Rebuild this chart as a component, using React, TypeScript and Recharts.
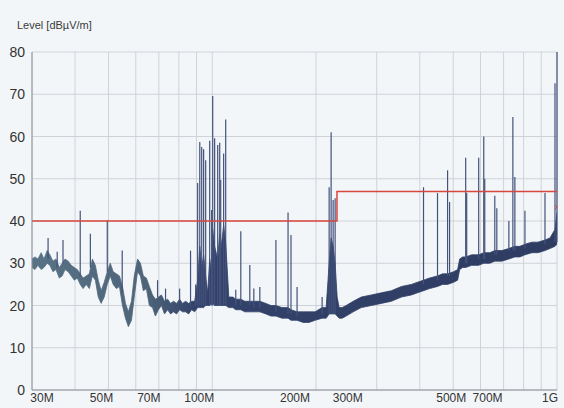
import { ComposedChart, Area, Line, Scatter, ErrorBar, XAxis, YAxis, CartesianGrid } from 'recharts'

// noise floor envelope of the scan, MHz / dBµV/m
const noiseFreq = [
  30.0, 30.6, 31.2, 31.9, 32.5, 33.2, 33.8, 34.5, 35.2, 36.0, 36.7, 37.4, 38.2, 39.0, 39.8, 40.6, 41.4, 42.2, 43.1, 44.0,
  44.9, 45.8, 46.7, 47.6, 48.6, 49.6, 50.6, 51.6, 52.7, 53.8, 54.9, 56.0, 57.1, 58.3, 59.4, 60.7, 61.9, 63.1, 64.4, 65.7,
  67.1, 68.4, 69.8, 71.2, 72.7, 74.2, 75.7, 77.2, 78.8, 80.4, 82.0, 83.7, 85.4, 87.1, 88.9,
  90.7, 92.0, 93.2, 94.4, 95.7, 97.0, 98.3, 99.6, 100.3, 101.6, 103.7, 105.1, 105.8, 107.9, 109.4,
  111.7, 114.7, 117.0, 121.0, 124.3, 128.5, 132.0, 137.4, 143.1, 148.0, 153.0, 159.3, 165.9, 169.2, 176.2, 183.4, 190.9, 198.8, 208.3, 214.0,
  218.3, 221.2, 224.2, 227.2, 230.3, 233.4, 238.2, 244.6, 256.4, 270.5, 289.4, 309.4, 330.8, 353.7, 378.2, 393.8, 410.0, 426.9, 450.2, 465.6,
  481.5, 501.4, 515.0, 522.0, 532.6, 543.4, 565.8, 592.7, 613.1, 638.3, 660.0, 691.8, 725.1, 754.7, 780.5, 807.2, 846.1, 880.8, 922.9, 954.3,
  986.6, 1000,
]
const noiseLow = [
  29, 28.5, 29.5, 28.5, 29, 30, 29.5, 28, 28.5, 26.5, 27, 28.5, 28, 27, 26, 26.5, 25, 24, 25, 24,
  27, 26, 22, 20.5, 22, 25, 27, 25, 24, 24.5, 20, 17, 15, 16.5, 22, 28, 27, 23.5, 24, 20,
  19.5, 17.5, 19, 20, 18, 19, 18, 18.5, 18, 19, 18.5, 18.5, 18, 19, 18.5,
  19.5, 19.5, 19.5, 19.5, 20, 20, 20, 20.5, 20.5, 20, 20, 20, 20, 20, 20,
  19.5, 19.5, 19, 19, 18.5, 18.5, 18.5, 18.5, 18, 17.5, 17.5, 17, 17, 16.5, 16.5, 16, 16, 16.5, 17, 17,
  18, 18, 18, 18, 17.5, 17, 17, 17.5, 18.5, 19.5, 20, 20.5, 21, 22, 22.5, 23, 23.5, 24, 24.5, 25,
  25, 25.5, 26, 28.5, 29, 29, 29.5, 29.5, 30, 30, 30.5, 30.5, 31, 31.5, 31.5, 32, 32.5, 32.5, 33, 33.5,
  34, 34.5,
]
const noiseHigh = [
  31, 31.5, 31, 32.5, 31, 33, 32, 30.5, 31, 29, 30, 31, 30.5, 29.5, 29, 28.5, 27.5, 26.5, 27, 27.5,
  31, 29.5, 26, 23.5, 25.5, 28, 30, 28, 27.5, 27, 24.5, 20.5, 18.5, 21, 27, 31, 30, 27, 26.5, 24.5,
  22.5, 21.5, 22, 22.5, 21, 21.5, 20.5, 21, 20.5, 21.5, 20.5, 21, 20.5, 21, 21,
  26, 34, 29, 32, 27, 23, 31, 28, 38, 34, 31, 37, 33, 39, 35,
  22, 22, 21.5, 21.5, 21, 21, 21, 21, 20.5, 20, 20, 19.5, 19.5, 19, 18.5, 18.5, 18.5, 18.5, 19.5, 19.5,
  30, 36, 34, 30, 22, 19.5, 19.5, 20, 21, 22, 22.5, 23, 23.5, 24.5, 25, 25.5, 26, 26.5, 27, 27.5,
  27.5, 28, 28.5, 31, 31.5, 31.5, 32, 32, 32.5, 32.5, 33, 33, 33.5, 34, 34, 34.5, 35, 35, 35.5, 36,
  38, 42,
]

// narrow-band emissions
const spikeFreq = [
  33.4, 35.5, 36.9, 41.4, 44.3, 49.6, 54.8, 69.4, 73.2, 80.4, 86.5, 89.5, 90.7, 92.0, 93.2, 94.4, 95.7, 98.3, 99.6, 100.3,
  101.6, 103.7, 105.1, 105.8, 107.9, 109.4, 117.0, 121.0, 128.5, 132.0, 137.4, 153.0, 165.9, 169.2, 176.2, 208.3, 218.3, 221.2, 224.2, 227.2,
  410.0, 450.2, 481.5, 488.0, 543.4, 547.1, 592.7, 613.1, 617.2, 660.0, 669.0, 725.1, 744.7, 754.7, 807.2, 922.9, 986.6, 1000,
]
const spikeBase = [
  31, 29, 30, 27, 29, 28, 23, 22, 21, 21, 20, 20, 20, 20, 20, 20, 20, 20, 20, 20,
  20, 20, 20, 20, 20, 20, 20, 20, 20, 19.5, 19.5, 18.5, 18, 18, 17.5, 18, 18, 18, 18, 18,
  25, 26, 27, 27, 30, 30, 31, 31, 31, 32, 32, 33, 33, 33, 33.5, 34.5, 35, 35,
]
const spikePeak = [
  36, 32.7, 35.5, 42.4, 37, 40.2, 33, 26, 24, 24, 33, 25, 49, 58.7, 57.5, 57, 54.4, 59, 42.6, 69.6,
  59.6, 58, 58.5, 49.7, 56, 64, 23.7, 37.6, 29.6, 24, 24.4, 35.5, 42, 36.7, 24.4, 22, 48, 61, 45, 45.4,
  48, 46.6, 52, 44.5, 55, 46.6, 55, 60, 50, 46, 43, 40, 64.6, 50.4, 42.4, 46.6, 72.6, 80,
]

const limitFreq = [30, 230, 1000]
const limitLevel = [40, 47, 47]

const markerFreq = [1000]
const markerLevel = [43.3]

const gridFreqs = [30, 40, 50, 60, 70, 80, 90, 100, 200, 300, 400, 500, 600, 700, 800, 900, 1000]
const freqLabels: Record<number, string> = {
  30: '30M', 50: '50M', 70: '70M', 100: '100M', 200: '200M', 300: '300M', 500: '500M', 700: '700M', 1000: '1G',
}
const levelTicks = [0, 10, 20, 30, 40, 50, 60, 70, 80]

// the printed labels sit a little off their grid lines
const labelShift: Record<number, number> = {
  30: 10, 50: -7, 70: -10, 100: -13, 200: -21, 300: -29, 500: -2, 700: -16, 1000: -7,
}

const FONT = '"Liberation Sans", Arial, sans-serif'

const noiseRows = noiseFreq.map((f, i) => ({ f, band: [noiseLow[i], noiseHigh[i]] }))
const spikeRows = spikeFreq.map((f, i) => ({ f, peak: spikePeak[i], err: [spikePeak[i] - spikeBase[i], 0] }))
const limitRows = limitFreq.map((f, i) => ({ f, lvl: limitLevel[i] }))
const markerRows = markerFreq.map((f, i) => ({ f, m: markerLevel[i] }))

function FreqTick(props: any) {
  const { x, y, payload } = props
  const label = freqLabels[payload.value]
  if (!label) return <g />
  return (
    <text x={x + (labelShift[payload.value] ?? 0)} y={y} dy={4} textAnchor="middle" fontSize={12} fill="#333" fontFamily={FONT}>
      {label}
    </text>
  )
}

function LevelTick(props: any) {
  const { x, y, payload } = props
  return (
    <text x={x + 1} y={y} dy="0.36em" textAnchor="end" fontSize={14} fill="#333" fontFamily={FONT}>
      {payload.value}
    </text>
  )
}

const noDot = () => <g />

function RedCross(props: any) {
  const { cx, cy } = props
  return (
    <path d={`M${cx - 2},${cy - 2}L${cx + 2},${cy + 2}M${cx - 2},${cy + 2}L${cx + 2},${cy - 2}`} stroke="#d8423a" strokeWidth={1} />
  )
}

export default function App() {
  return (
    <div style={{ position: 'absolute', left: 0, top: 0, width: 564, height: 408, background: '#f3f6f9', overflow: 'hidden' }}>
      <div style={{ position: 'absolute', left: 17, top: 19, fontSize: 11, color: '#3a3a3a', fontFamily: FONT }}>
        Level [dBµV/m]
      </div>
      <ComposedChart width={564} height={408} margin={{ top: 52, right: 7, bottom: 0, left: 0 }}>
        <defs>
          <linearGradient id="noiseFill" x1="0" y1="0" x2="1" y2="0">
            <stop offset="0" stopColor="#587286" />
            <stop offset="0.22" stopColor="#4d6479" />
            <stop offset="0.31" stopColor="#33426a" />
            <stop offset="1" stopColor="#2e3c62" />
          </linearGradient>
        </defs>
        <CartesianGrid stroke="#cfd3d8" strokeWidth={1} />
        <XAxis
          dataKey="f"
          type="number"
          scale="log"
          domain={[30, 1000]}
          allowDataOverflow
          ticks={gridFreqs}
          interval={0}
          tick={<FreqTick />}
          tickLine={false}
          axisLine={{ stroke: '#8c9096' }}
          height={18}
        />
        <YAxis
          type="number"
          domain={[0, 80]}
          allowDataOverflow
          ticks={levelTicks}
          interval={0}
          tick={<LevelTick />}
          tickLine={false}
          axisLine={{ stroke: '#8c9096' }}
          width={32}
        />
        <Area
          data={noiseRows}
          dataKey="band"
          type="linear"
          stroke="url(#noiseFill)"
          strokeWidth={0.8}
          fill="url(#noiseFill)"
          fillOpacity={1}
          isAnimationActive={false}
        />
        <Scatter data={spikeRows} dataKey="peak" shape={noDot} isAnimationActive={false}>
          <ErrorBar dataKey="err" direction="y" width={0} stroke="#43527a" strokeWidth={1.2} isAnimationActive={false} />
        </Scatter>
        <Line
          data={limitRows}
          dataKey="lvl"
          type="stepAfter"
          stroke="#d9463d"
          strokeWidth={1.5}
          dot={false}
          isAnimationActive={false}
        />
        <Scatter data={markerRows} dataKey="m" shape={<RedCross />} isAnimationActive={false} />
      </ComposedChart>
    </div>
  )
}
